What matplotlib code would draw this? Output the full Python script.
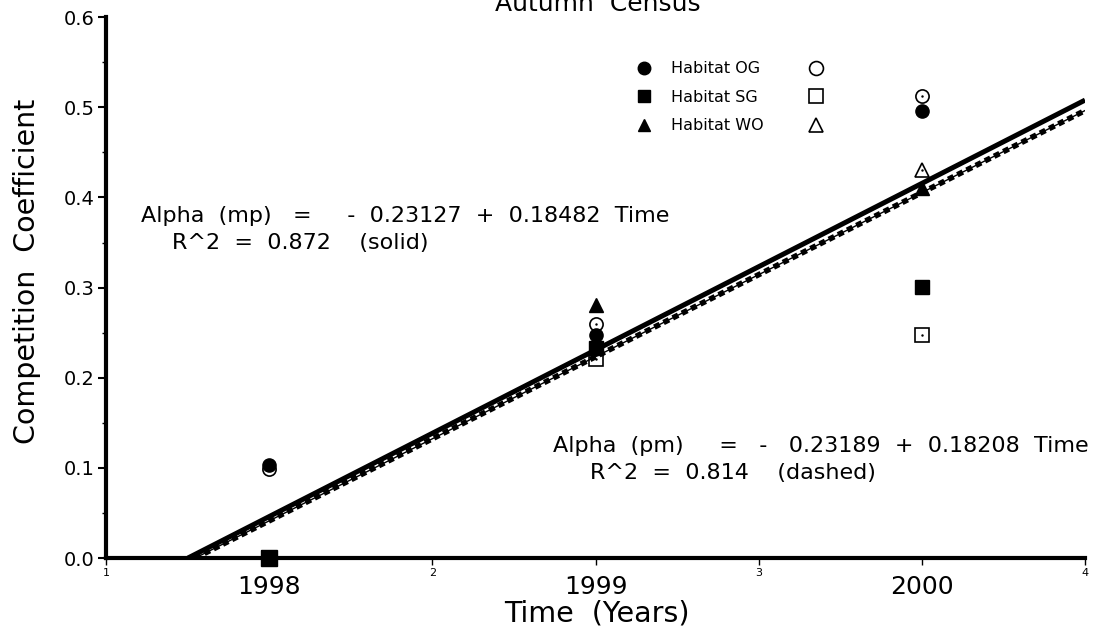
import numpy as np
import matplotlib
matplotlib.use('Agg')
import matplotlib.pyplot as plt
from matplotlib.lines import Line2D

plt.rcParams['font.family'] = ['DejaVu Sans']

# census years (time axis position) and their labels
time_pos = [1.5, 2.5, 3.5]
year_labels = ['1998', '1999', '2000']

# competition coefficients per habitat, filled = mp, open = pm
og_filled = [0.103, 0.247, 0.496]
og_open = [0.099, 0.260, 0.513]
sg_filled = [0.0, 0.233, 0.301]
sg_open = [0.0, 0.221, 0.247]
wo_filled = [np.nan, 0.281, 0.410]
wo_open = [np.nan, np.nan, 0.430]

# regression fits (intercept, slope)
fit_mp = (-0.23127, 0.18482)
fit_pm = (-0.23189, 0.18208)

fig = plt.figure(figsize=(10.96, 6.37), dpi=100)
ax = fig.add_axes([0.0967, 0.124, 0.8933, 0.849])

ms = 9.5
# open markers first so the filled ones sit on top
ax.plot(time_pos, og_open, 'o', mfc='white', mec='black', mew=1.2, ms=ms, ls='none', zorder=3)
ax.plot(time_pos, sg_open, 's', mfc='white', mec='black', mew=1.2, ms=ms, ls='none', zorder=3)
ax.plot(time_pos, wo_open, '^', mfc='white', mec='black', mew=1.2, ms=ms, ls='none', zorder=3)
for vals in (og_open, sg_open, wo_open):
    ax.plot(time_pos, vals, '.', color='black', ms=1.5, ls='none', zorder=3.5)

ax.plot(time_pos, og_filled, 'o', color='black', ms=ms, ls='none', zorder=4)
ax.plot(time_pos, sg_filled, 's', color='black', ms=ms, ls='none', zorder=4)
ax.plot(time_pos, wo_filled, '^', color='black', ms=ms, ls='none', zorder=4)
# the 1998 SG point sits on the axis and looks larger
ax.plot(time_pos[0], sg_filled[0], 's', color='black', ms=12, zorder=6, clip_on=False)

# regression lines from where they cross zero to the end of the axis
a, b = fit_mp
t = np.array([-a / b, 4.0])
ax.plot(t, a + b * t, color='black', lw=3.6, zorder=5, solid_capstyle='butt')
a, b = fit_pm
t = np.array([-a / b, 4.0])
ax.plot(t, a + b * t, color='black', lw=4.0, ls=(0, (1.1, 0.75)), zorder=5)
ax.plot(t, a + b * t, color='black', lw=1.0, zorder=5)

ax.set_xlim(1, 4)
ax.set_ylim(0, 0.6)

for side in ('top', 'right'):
    ax.spines[side].set_visible(False)
ax.spines['left'].set_linewidth(3)
ax.spines['bottom'].set_linewidth(3)

ax.set_xticks([1, 2, 3, 4])
ax.set_xticklabels(['1', '2', '3', '4'], fontsize=8)
ax.set_xticks(time_pos, minor=True)
ax.set_xticklabels(year_labels, minor=True, fontsize=18)
ax.tick_params(axis='x', which='major', length=5, width=1, pad=2)
ax.tick_params(axis='x', which='minor', length=5, width=1, pad=7)

ax.set_yticks([0.0, 0.1, 0.2, 0.3, 0.4, 0.5, 0.6])
ax.set_yticklabels(['0.0', '0.1', '0.2', '0.3', '0.4', '0.5', '0.6'], fontsize=14)
ax.set_yticks([0.05, 0.15, 0.25, 0.35, 0.45, 0.55], minor=True)
ax.tick_params(axis='y', which='major', length=6, width=1.5, pad=2)
ax.tick_params(axis='y', which='minor', length=3, width=1)

ax.set_xlabel('Time  (Years)', fontsize=20.5)
ax.xaxis.set_label_coords(0.501, -0.076)
ax.set_ylabel('Competition  Coefficient', fontsize=20.5)
ax.yaxis.set_label_coords(-0.066, 0.53)

fig.text(0.545, 0.982, 'Autumn  Census', fontsize=18, ha='center', va='baseline')

ax.text(0.036, 0.632, 'Alpha  (mp)   =     -  0.23127  +  0.18482  Time', transform=ax.transAxes,
        fontsize=16, va='center')
ax.text(0.067, 0.582, 'R^2  =  0.872    (solid)', transform=ax.transAxes,
        fontsize=16, va='center')
ax.text(0.457, 0.207, 'Alpha  (pm)     =   -   0.23189  +  0.18208  Time', transform=ax.transAxes,
        fontsize=16, va='center')
ax.text(0.494, 0.158, 'R^2  =  0.814    (dashed)', transform=ax.transAxes,
        fontsize=16, va='center')

# legend: filled marker, habitat name, open marker
names = ['Habitat OG', 'Habitat SG', 'Habitat WO']
shapes = ['o', 's', '^']
filled_h = [Line2D([], [], marker=m, color='black', ls='none', ms=9) for m in shapes]
open_h = [Line2D([], [], marker=m, mfc='white', mec='black', mew=1.2, ls='none', ms=10) for m in shapes]
leg1 = ax.legend(filled_h, names, loc='upper left', bbox_to_anchor=(0.525, 0.945),
                 frameon=False, fontsize=11.5, labelspacing=0.85, handletextpad=1.1,
                 handlelength=1.2)
ax.add_artist(leg1)
ax.legend(open_h, ['', '', ''], loc='upper left', bbox_to_anchor=(0.701, 0.945),
          frameon=False, fontsize=11.5, labelspacing=0.85, handlelength=1.2)

fig.savefig('out.png', dpi=100)
